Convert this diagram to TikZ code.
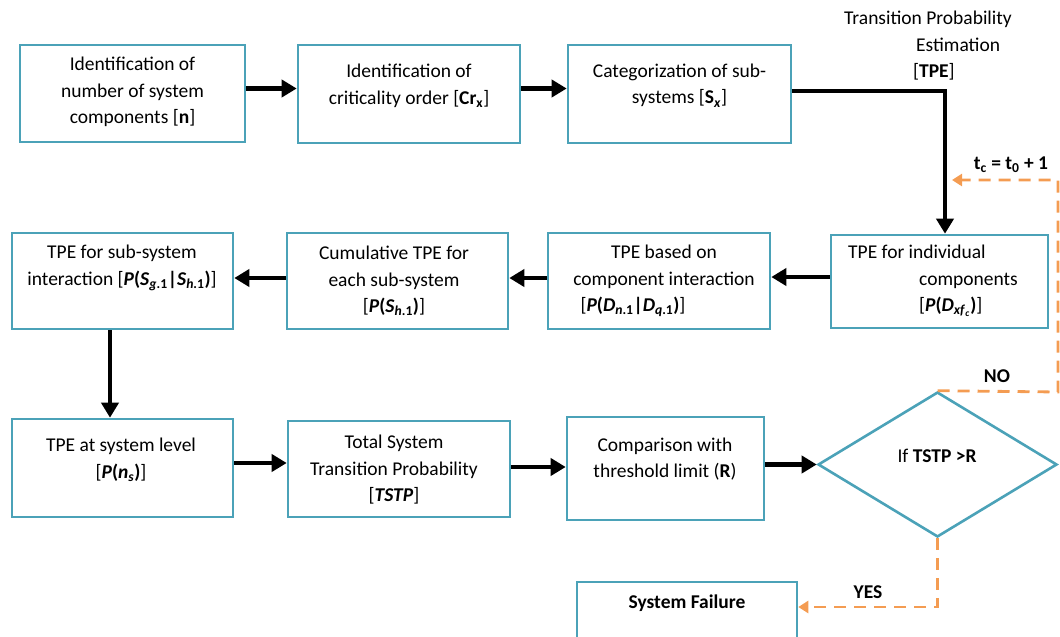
\documentclass[tikz,border=0pt]{standalone}
\usepackage{fontspec}
\setmainfont{Carlito}
\usetikzlibrary{arrows.meta,shapes.geometric}

\definecolor{boxteal}{RGB}{75,162,184}
\definecolor{looporange}{RGB}{244,156,82}

% bold italic symbol with optional bold subscript
\newcommand{\bv}[1]{\textit{#1}}
\newcommand{\prob}[1]{[\textbf{#1}]}

\tikzset{
  box/.style={draw=boxteal, line width=2.6pt, fill=white, inner sep=0pt},
  txt/.style={font=\fontsize{19.5}{26.5}\selectfont, align=center, inner sep=0pt},
  arr/.style={line width=4.5pt, -{Triangle[length=15pt,width=17pt]}},
  oarr/.style={draw=looporange, line width=2.8pt, dash pattern=on 12pt off 8pt,
               -{Triangle[length=10pt,width=12pt]}},
}

\begin{document}
\begin{tikzpicture}[x=1pt,y=-1pt]
\useasboundingbox (0,0) rectangle (1060,637);
\clip (0,0) rectangle (1060,637);

% ---- boxes ----
\node[box, minimum width=225pt, minimum height=97pt] (A) at (132.5,93.5) {};
\node[box, minimum width=222pt, minimum height=98pt] (B) at (409,94) {};
\node[box, minimum width=223pt, minimum height=98pt] (C) at (679.5,94) {};

\node[box, minimum width=221pt, minimum height=96pt] (E) at (122.5,281) {};
\node[box, minimum width=221pt, minimum height=96pt] (F) at (397.5,281) {};
\node[box, minimum width=222pt, minimum height=96pt] (G) at (659,281) {};
\node[box, minimum width=217pt, minimum height=93pt] (H) at (939.5,281.5) {};

\node[box, minimum width=221pt, minimum height=98pt] (I) at (122.5,468) {};
\node[box, minimum width=222pt, minimum height=96pt] (J) at (399,469) {};
\node[box, minimum width=197pt, minimum height=103pt] (K) at (665.5,468.5) {};
\node[box, diamond, minimum width=239pt, minimum height=145pt] (D) at (937.5,464.5) {};

\node[box, minimum width=220pt, minimum height=68pt] (SF) at (687,616) {};

% ---- texts ----
\node[txt] (At) at (132.5,92) {Identification of\\number of system\\components [\textbf{n}]};
\node[txt] (Bt) at (409,86) {Identification of\\criticality order [\textbf{Cr\textsubscript{x}}]};
\node[txt] (Ct) at (679.5,85.5) {Categorization of sub-\\systems [\textbf{S}\textsubscript{\textbf{\textit{x}}}]};
\node[txt, align=left, anchor=west] (Tt) at (844,46)
  {Transition Probability\\\hspace*{72pt}Estimation\\\hspace*{69pt}[\textbf{TPE}]};

\node[txt] (Et) at (122,268) {TPE for sub-system\\interaction
  \prob{\bv{P}(\bv{S}\textsubscript{\bv{g}.1}|\bv{S}\textsubscript{\bv{h}.1})}};
\node[txt] (Ft) at (394,281) {Cumulative TPE for\\each sub-system\\
  \prob{\bv{P}(\bv{S}\textsubscript{\bv{h}.1})}};
\node[txt] (Gt) at (664,281) {TPE based on\\component interaction\\
  \hspace*{-62pt}\prob{\bv{P}(\bv{D}\textsubscript{\bv{n}.1}|\bv{D}\textsubscript{\bv{q}.1})}};
\node[txt, align=left, anchor=west] (Ht) at (848,281)
  {TPE for individual\\\hspace*{71pt}components\\
   \hspace*{71pt}\prob{\bv{P}(\bv{D}\textsubscript{\bv{xf}\textsubscript{\bv{c}}})}};

\node[txt] (It) at (121,460) {TPE at system level\\\prob{\bv{P}(\bv{n}\textsubscript{\bv{s}})}};
\node[txt] (Jt) at (394,470) {Total System\\Transition Probability\\\prob{\bv{TSTP}}};
\node[txt] (Kt) at (665,459) {Comparison with\\threshold limit (\textbf{R})};
\node[txt] (Dt) at (937,456) {If \textbf{TSTP >R}};
\node[txt] (SFt) at (687,603) {\textbf{System Failure}};

\node[txt] (no) at (997,376) {\textbf{NO}};
\node[txt] (yes) at (868,592) {\textbf{YES}};
\node[txt] (tc) at (1011,165) {\textbf{t\textsubscript{c} = t\textsubscript{0} + 1}};

% ---- main flow ----
\draw[arr] ([yshift=5pt]A.east) -- ([yshift=5pt]A.east -| B.west);
\draw[arr] ([yshift=5.5pt]B.east) -- ([yshift=5.5pt]B.east -| C.west);
\draw[arr] ([yshift=3pt]C.east) -| ([xshift=5.5pt]H.north);
\draw[arr] ([yshift=4.5pt]H.west) -- ([yshift=4.5pt]H.west -| G.east);
\draw[arr] ([yshift=3pt]G.west) -- ([yshift=3pt]G.west -| F.east);
\draw[arr] ([yshift=3pt]F.west) -- ([yshift=3pt]F.west -| E.east);
\draw[arr] ([xshift=-12.5pt]E.south) -- ([xshift=-12.5pt]E.south |- I.north);
\draw[arr] ([yshift=5pt]I.east) -- ([yshift=5pt]I.east -| J.west);
\draw[arr] ([yshift=2pt]J.east) -- ([yshift=2pt]J.east -| K.west);
\draw[arr] (K.east |- D.west) -- (D.west);

% ---- decision branches ----
\coordinate (noR) at (1058,392);
\coordinate (loopTop) at (1058,180);
\coordinate (loopEnd) at (952,180);
\draw[oarr] (D.north) -- (noR) -- (loopTop) -- (loopEnd);

\coordinate (yesY) at (0,607);
\draw[oarr] (D.south) |- (SF.east |- yesY);
\end{tikzpicture}
\end{document}
